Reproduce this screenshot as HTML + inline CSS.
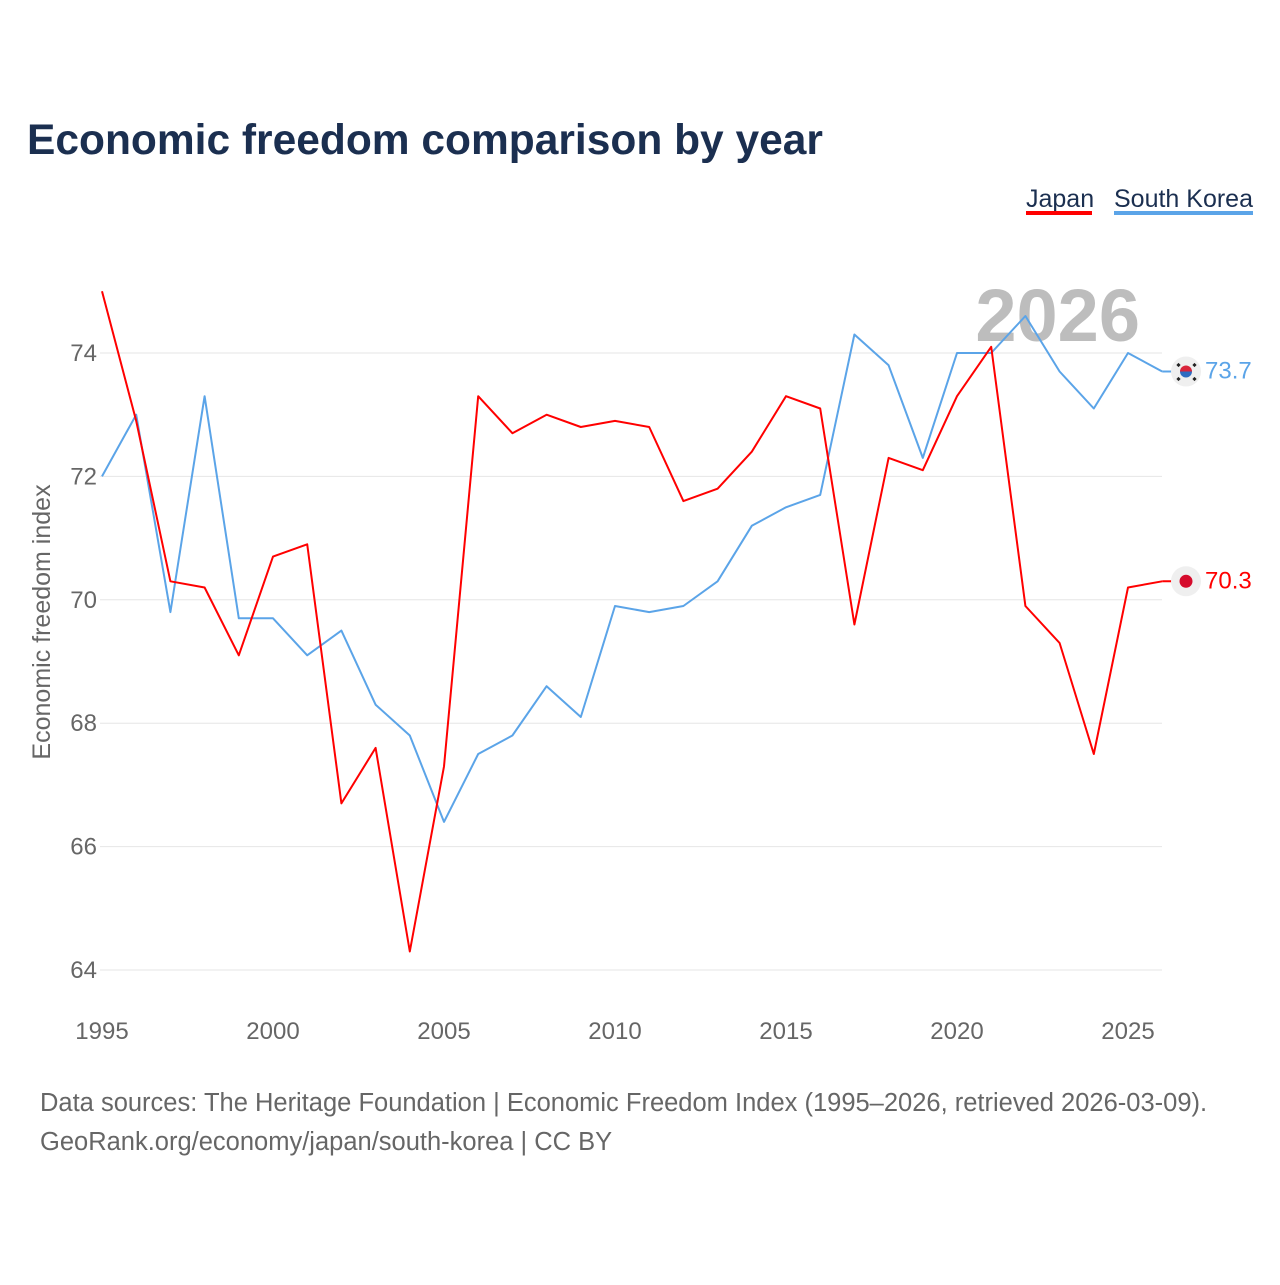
<!DOCTYPE html>
<html><head><meta charset="utf-8">
<style>
html,body{margin:0;padding:0;background:#fff;}
body{width:1280px;height:1280px;overflow:hidden;font-family:"Liberation Sans",sans-serif;}
</style></head>
<body>
<svg id="chart" width="1280" height="1280" xmlns="http://www.w3.org/2000/svg" font-family="Liberation Sans, sans-serif">
<text x="27" y="154" font-size="42.5" font-weight="bold" fill="#1b2f50">Economic freedom comparison by year</text>
<g>
  <g>
    <text x="1026" y="207" font-size="25" fill="#1b2f50">Japan</text>
    <rect x="1026" y="211" width="66" height="4" fill="#ff0000"/>
  </g>
  <g>
    <text x="1114" y="207" font-size="25" fill="#1b2f50">South Korea</text>
    <rect x="1114" y="211" width="139" height="4" fill="#5ba4e8"/>
  </g>
</g>
<text x="1140" y="341" font-size="74" font-weight="bold" fill="#bdbdbd" text-anchor="end">2026</text>
<g id="grid"></g>
<g id="yticks"></g>
<g id="xticks"></g>
<text transform="translate(50,622) rotate(-90)" text-anchor="middle" font-size="25" fill="#666">Economic freedom index</text>
<g id="series"></g>
<text x="40" y="1111" font-size="25.5" fill="#666">Data sources: The Heritage Foundation | Economic Freedom Index (1995–2026, retrieved 2026-03-09).</text>
<text x="40" y="1150" font-size="25.5" fill="#666">GeoRank.org/economy/japan/south-korea | CC BY</text>
</svg>
<script>
const years = [];
for (let y = 1995; y <= 2026; y++) years.push(y);
const japan = [75.0,72.9,70.3,70.2,69.1,70.7,70.9,66.7,67.6,64.3,67.3,73.3,72.7,73.0,72.8,72.9,72.8,71.6,71.8,72.4,73.3,73.1,69.6,72.3,72.1,73.3,74.1,69.9,69.3,67.5,70.2,70.3];
const korea = [72.0,73.0,69.8,73.3,69.7,69.7,69.1,69.5,68.3,67.8,66.4,67.5,67.8,68.6,68.1,69.9,69.8,69.9,70.3,71.2,71.5,71.7,74.3,73.8,72.3,74.0,74.0,74.6,73.7,73.1,74.0,73.7];
const yTicks = [64,66,68,70,72,74];
const xTicks = [1995,2000,2005,2010,2015,2020,2025];

const NS = "http://www.w3.org/2000/svg";
function xs(v){ return 102 + (v - 1995) * (1128 - 102) / 30; }
function ys(v){ return 970 - (v - 64) * (970 - 353) / 10; }
function mk(tag, attrs, parent){ const e = document.createElementNS(NS, tag); for (const k in attrs) e.setAttribute(k, attrs[k]); parent.appendChild(e); return e; }

const grid = document.getElementById('grid'), yt = document.getElementById('yticks'), xt = document.getElementById('xticks'), ser = document.getElementById('series');
yTicks.forEach(t => {
  const l = mk('line', {x1:100, x2:1162, y1:ys(t), y2:ys(t), stroke:'#e6e6e6', 'stroke-width':1}, grid);
  
  
  const tx = mk('text', {x:97, y:ys(t)+8, 'text-anchor':'end', 'font-size':24, fill:'#666'}, yt);
  tx.textContent = t;
  
  
});
xTicks.forEach(t => {
  const tx = mk('text', {x:xs(t), y:1039, 'text-anchor':'middle', 'font-size':24, fill:'#666'}, xt);
  tx.textContent = t;
  
  
});
function line(vals, color, name){
  const d = vals.map((v,i) => (i ? 'L' : 'M') + xs(years[i]).toFixed(1) + ' ' + ys(v).toFixed(1)).join(' ');
  const p = mk('path', {d:d, fill:'none', stroke:color, 'stroke-width':2, 'stroke-linejoin':'round'}, ser);
  
  
}
line(korea, '#5ba4e8', 'line-south-korea');
line(japan, '#ff0000', 'line-japan');

const lastK = korea[korea.length-1], lastJ = japan[japan.length-1];
const mx = 1186;
const gk = mk('g', {}, ser);


mk('line', {x1:xs(2026), x2:mx, y1:ys(lastK), y2:ys(lastK), stroke:'#5ba4e8', 'stroke-width':2}, gk);
mk('circle', {cx:mx, cy:ys(lastK), r:15, fill:'#efefef'}, gk);
mk('path', {d:`M${mx-6} ${ys(lastK)} A6 6 0 0 1 ${mx+6} ${ys(lastK)} Z`, fill:'#d9243a'}, gk);
mk('path', {d:`M${mx-6} ${ys(lastK)} A6 6 0 0 0 ${mx+6} ${ys(lastK)} Z`, fill:'#2e6bc0'}, gk);
[[-9,-8],[7,-8],[-9,6],[7,6]].forEach(o => mk('rect', {x:mx+o[0], y:ys(lastK)+o[1], width:3, height:3, fill:'#222', transform:`rotate(45 ${mx+o[0]+1.5} ${ys(lastK)+o[1]+1.5})`}, gk));
const lk = mk('text', {x:1205, y:ys(lastK)+7, 'font-size':24, fill:'#5ba4e8'}, ser);
lk.textContent = lastK.toFixed(1);


const gj = mk('g', {}, ser);


mk('line', {x1:xs(2026), x2:mx, y1:ys(lastJ), y2:ys(lastJ), stroke:'#ff0000', 'stroke-width':2}, gj);
mk('circle', {cx:mx, cy:ys(lastJ), r:15, fill:'#efefef'}, gj);
mk('circle', {cx:mx, cy:ys(lastJ), r:6.5, fill:'#d50b2c'}, gj);
const lj = mk('text', {x:1205, y:ys(lastJ)+7, 'font-size':24, fill:'#ff0000'}, ser);
lj.textContent = lastJ.toFixed(1);


</script>
</body></html>
